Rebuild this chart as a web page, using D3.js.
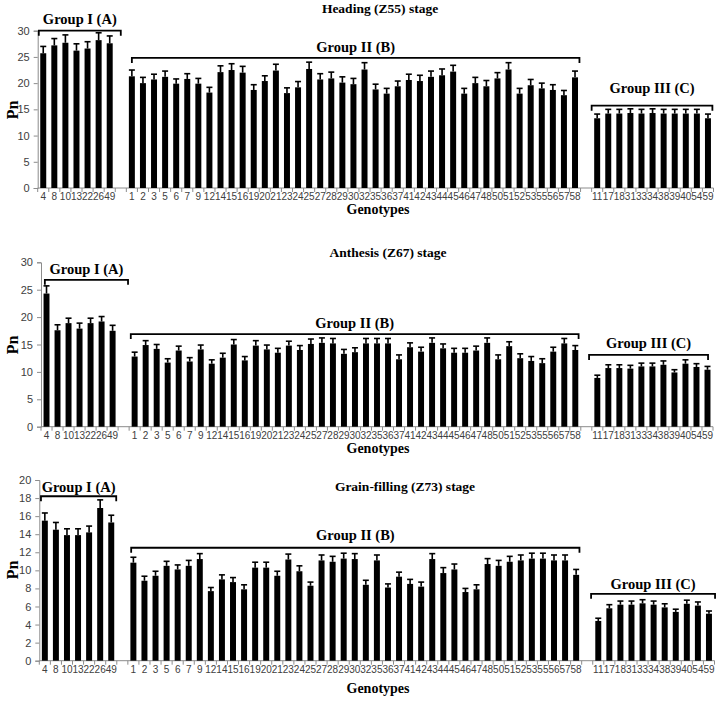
<!DOCTYPE html>
<html><head><meta charset="utf-8">
<script src="https://cdn.jsdelivr.net/npm/d3@7"></script>
<style>body{margin:0;background:#fff}svg{display:block}</style>
</head><body>
<script>
// ---------- data ----------
const groupI = ["4","8","10","13","22","26","49"];
const groupII = ["1","2","3","5","6","7","9","12","14","15","16","19","20","21","23","24","25","27","28","29","30","32","35","36","37","41","42","43","44","45","46","47","48","50","51","52","53","55","56","57","58"];
const groupIII = ["11","17","18","31","33","34","38","39","40","54","59"];

// Heading (Z55)
const headingI = [25.7,27.2,27.7,26.2,26.6,28.2,27.6];
const headingIErr = [1.3,1.3,1.5,1.3,1.3,1.4,1.4];
const headingII = [21.3,20.0,20.7,21.2,19.9,20.8,19.9,18.2,22.1,22.5,22.0,18.7,20.4,22.4,18.1,19.2,22.7,20.7,20.9,20.1,19.8,22.6,18.8,18.0,19.4,20.6,20.4,21.2,21.5,22.2,18.0,20.0,19.4,20.9,22.6,18.0,19.6,19.0,18.7,17.7,21.1];
const headingIIErr = [1.2,1.1,1.0,1.1,0.9,1.0,1.0,1.0,1.2,1.2,1.2,1.0,1.0,1.2,1.0,1.1,1.3,1.1,1.2,1.1,1.1,1.3,1.0,1.0,1.0,1.1,1.1,1.1,1.2,1.2,1.0,1.1,1.1,1.1,1.3,1.0,1.1,1.0,1.0,0.9,1.2];
const headingIII = [13.3,14.2,14.2,14.3,14.2,14.3,14.2,14.2,14.2,14.2,13.3];
const headingIIIErr = [0.8,0.8,0.8,0.8,0.8,0.8,0.8,0.8,0.8,0.8,0.8];

// Anthesis (Z67)
const anthesisI = [24.3,17.6,18.9,17.9,18.9,19.2,17.5];
const anthesisIErr = [1.4,1.0,0.9,1.0,0.9,0.9,1.0];
const anthesisII = [12.8,14.9,14.2,11.7,13.9,11.9,14.1,11.5,12.6,15.0,12.1,14.8,14.1,13.5,14.8,14.0,15.1,15.3,15.2,13.3,13.6,15.2,15.2,15.2,12.3,14.5,13.7,15.3,14.3,13.5,13.5,13.9,15.3,12.3,14.7,12.5,12.0,11.6,13.7,15.2,14.0];
const anthesisIIErr = [0.8,0.8,0.8,0.7,0.8,0.7,0.8,0.7,0.8,0.9,0.7,0.9,0.8,0.8,0.8,0.8,0.9,0.9,0.9,0.8,0.8,0.9,0.9,0.9,0.8,0.8,0.8,0.9,0.8,0.8,0.8,0.8,0.9,0.8,0.8,0.8,0.8,0.8,0.8,0.9,0.8];
const anthesisIII = [8.9,10.7,10.7,10.6,11.0,11.0,11.3,9.9,11.5,10.9,10.4];
const anthesisIIIErr = [0.5,0.6,0.6,0.6,0.6,0.6,0.7,0.5,0.7,0.6,0.6];

// Grain-filling (Z73)
const grainI = [15.5,14.5,13.9,13.9,14.2,16.9,15.3];
const grainIErr = [0.85,0.8,0.7,0.7,0.7,0.9,0.8];
const grainII = [10.85,8.85,9.4,10.5,10.1,10.5,11.25,7.7,9.0,8.7,7.9,10.3,10.3,9.4,11.2,9.9,8.3,11.1,10.95,11.3,11.25,8.4,11.1,8.1,9.3,8.5,8.2,11.25,9.7,10.1,7.6,7.9,10.7,10.5,10.95,11.1,11.3,11.3,11.1,11.1,9.5];
const grainIIErr = [0.6,0.5,0.5,0.5,0.5,0.6,0.6,0.4,0.5,0.5,0.5,0.6,0.6,0.5,0.6,0.6,0.4,0.6,0.6,0.6,0.6,0.5,0.6,0.4,0.5,0.5,0.5,0.6,0.6,0.6,0.4,0.5,0.6,0.6,0.6,0.6,0.6,0.6,0.6,0.6,0.6];
const grainIII = [4.4,5.8,6.2,6.2,6.35,6.2,5.9,5.4,6.3,6.1,5.2];
const grainIIIErr = [0.3,0.4,0.4,0.4,0.4,0.4,0.4,0.3,0.4,0.4,0.3];

const groupNames = ["Group I (A)","Group II (B)","Group III (C)"];
const stageTitles = ["Heading (Z55) stage","Anthesis (Z67) stage","Grain-filling (Z73) stage"];
const yMaxes = [30,30,20];
const ySteps = [5,5,2];
const xTitle = "Genotypes";
const yTitle = "Pn";

// ---------- layout ----------
const W = 718, H = 704;
const panels = [
  {title: stageTitles[0], vals:[headingI,headingII,headingIII], errs:[headingIErr,headingIIErr,headingIIIErr],
   yMax:yMaxes[0], step:ySteps[0], left:37.7, right:713.5, y0:188, yTop:30.7, titleX:380, titleY:8, genY:209, pnY:110,
   brackets:[{lv:30.0, lab:11.5, a:-0.4, b:1.0},{lv:24.8, lab:11, a:0, b:0.4},{lv:15.7, lab:17.5, a:-0.5, b:0.4}]},
  {title: stageTitles[1], vals:[anthesisI,anthesisII,anthesisIII], errs:[anthesisIErr,anthesisIIErr,anthesisIIIErr],
   yMax:yMaxes[1], step:ySteps[1], left:41, right:713, y0:426.7, yTop:262.3, titleX:388, titleY:252, genY:448, pnY:345,
   brackets:[{lv:26.8, lab:11, a:-0.15, b:1.4},{lv:16.9, lab:11, a:-0.35, b:0.3},{lv:13.1, lab:12, a:-0.75, b:0.05}]},
  {title: stageTitles[2], vals:[grainI,grainII,grainIII], errs:[grainIErr,grainIIErr,grainIIIErr],
   yMax:yMaxes[2], step:ySteps[2], left:39.3, right:714.5, y0:660.7, yTop:480, titleX:405, titleY:486, genY:688, pnY:570,
   brackets:[{lv:18.2, lab:9.5, a:-0.35, b:0.45},{lv:12.5, lab:12.5, a:-0.2, b:0.3},{lv:7.4, lab:10, a:-0.65, b:0.55}]}
];

const groups = [groupI, groupII, groupIII];
const slots = [...groupI, "_gap1", ...groupII, "_gap2", ...groupIII];

const svg = d3.select("body").append("svg").attr("width", W).attr("height", H);
const serif = "'Liberation Serif','Times New Roman',serif";
const sans = "'Liberation Sans',Arial,sans-serif";

panels.forEach(p => {
  const g = svg.append("g");
  const x = d3.scaleBand().domain(slots).range([p.left, p.right]).paddingInner(0.46).paddingOuter(0.23);
  const y = d3.scaleLinear().domain([0, p.yMax]).range([p.y0, p.yTop]);
  const step = x.step();
  const cx = k => x(k) + x.bandwidth()/2;

  // y axis
  const yTicks = d3.range(0, p.yMax + 0.001, p.step);
  const yAxis = d3.axisLeft(y).tickValues(yTicks).tickSize(4).tickPadding(4);
  const ya = g.append("g").attr("transform", `translate(${p.left},0)`).call(yAxis);
  ya.select(".domain").attr("stroke", "#8c8c8c");
  ya.selectAll(".tick line").attr("stroke", "#8c8c8c");
  ya.selectAll("text").attr("font-family", sans).attr("font-size", 11).attr("fill", "#404040");

  // x axis: line + ticks at each slot boundary
  g.append("line").attr("x1", p.left).attr("x2", p.right).attr("y1", y(0)).attr("y2", y(0)).attr("stroke", "#8c8c8c");
  const bounds = slots.map(s => x(s) - (step - x.bandwidth())/2).concat([p.right]);
  g.selectAll(".xt").data(bounds).join("line")
    .attr("x1", d => d).attr("x2", d => d).attr("y1", y(0)).attr("y2", y(0) + 4).attr("stroke", "#8c8c8c");
  const labels = [...groupI, ...groupII, ...groupIII];
  g.selectAll(".xl").data(labels).join("text")
    .attr("x", d => cx(d)).attr("y", y(0) + 12).attr("text-anchor", "middle")
    .attr("font-family", sans).attr("font-size", 10).attr("fill", "#404040").text(d => d);

  // bars + error bars
  groups.forEach((grp, gi) => {
    const data = grp.map((k, i) => ({k, v: p.vals[gi][i], e: p.errs[gi][i]}));
    g.selectAll(null).data(data).join("rect")
      .attr("x", d => x(d.k)).attr("width", x.bandwidth())
      .attr("y", d => y(d.v)).attr("height", d => y(0) - y(d.v)).attr("fill", "#000");
    g.selectAll(null).data(data).join("line")
      .attr("x1", d => cx(d.k)).attr("x2", d => cx(d.k))
      .attr("y1", d => y(d.v)).attr("y2", d => y(d.v + d.e)).attr("stroke", "#000").attr("stroke-width", 1.6);
    g.selectAll(null).data(data).join("line")
      .attr("x1", d => cx(d.k) - 3).attr("x2", d => cx(d.k) + 3)
      .attr("y1", d => y(d.v + d.e)).attr("y2", d => y(d.v + d.e)).attr("stroke", "#000").attr("stroke-width", 1.6);

    // bracket
    const br = p.brackets[gi];
    const x0 = cx(grp[0]) + br.a*step, x1 = cx(grp[grp.length-1]) + br.b*step, by = y(br.lv);
    g.append("path").attr("d", `M${x0},${by+5}V${by}H${x1}V${by+5}`)
      .attr("fill", "none").attr("stroke", "#000").attr("stroke-width", 1.8);
    g.append("text").attr("x", (x0 + x1)/2).attr("y", by - br.lab).attr("dy", "0.35em")
      .attr("text-anchor", "middle").attr("font-family", serif).attr("font-weight", "bold")
      .attr("font-size", 14.5).text(groupNames[gi]);
  });

  // titles
  g.append("text").attr("x", p.titleX).attr("y", p.titleY).attr("dy", "0.35em").attr("text-anchor", "middle")
    .attr("font-family", serif).attr("font-weight", "bold").attr("font-size", 13.5).text(p.title);
  g.append("text").attr("x", 378).attr("y", p.genY).attr("dy", "0.35em").attr("text-anchor", "middle")
    .attr("font-family", serif).attr("font-weight", "bold").attr("font-size", 14).text(xTitle);
  g.append("text").attr("transform", `translate(12,${p.pnY}) rotate(-90)`).attr("dy", "0.35em").attr("text-anchor", "middle")
    .attr("font-family", serif).attr("font-weight", "bold").attr("font-size", 16).text(yTitle);
});
</script>
</body></html>
